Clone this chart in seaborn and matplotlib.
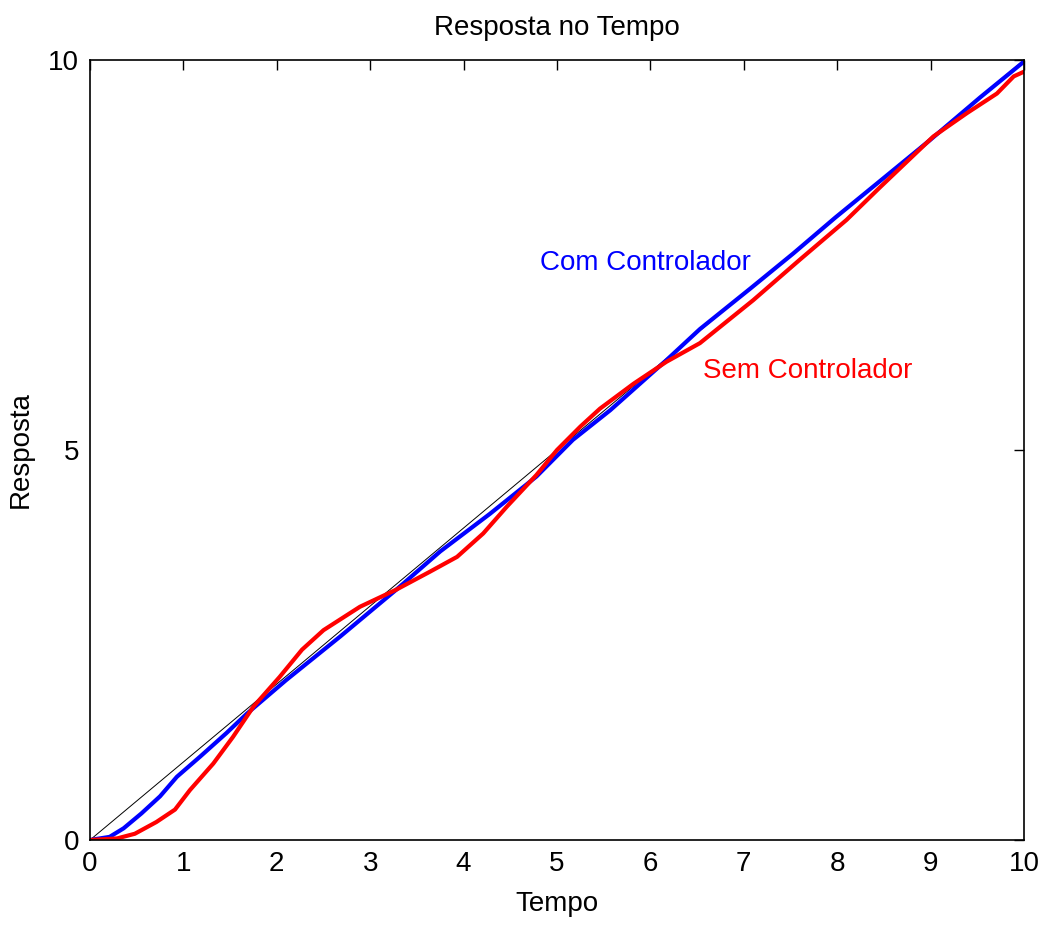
import matplotlib
matplotlib.use("Agg")
import matplotlib.pyplot as plt
import seaborn as sns

# Reference (input ramp)
ref_t = [0, 10]
ref_y = [0, 10]

# Com Controlador (blue)
com_t = [0, 0.21, 0.36, 0.55, 0.75, 0.93, 1.18, 1.46, 1.68, 2.10, 2.68, 3.28, 3.75, 4.28, 4.78, 5.17, 5.57, 6.17, 6.53, 7.07, 7.53, 7.98, 8.46, 8.99, 9.53, 10.0]
com_y = [0, 0.04, 0.15, 0.34, 0.56, 0.81, 1.07, 1.37, 1.62, 2.05, 2.61, 3.21, 3.70, 4.18, 4.66, 5.13, 5.51, 6.15, 6.55, 7.07, 7.52, 7.98, 8.45, 8.97, 9.52, 9.98]

# Sem Controlador (red)
sem_t = [0, 0.29, 0.48, 0.71, 0.91, 1.07, 1.32, 1.53, 1.75, 2.03, 2.27, 2.50, 2.89, 3.28, 3.64, 3.93, 4.21, 4.46, 4.78, 5.00, 5.25, 5.46, 5.82, 6.17, 6.53, 7.10, 7.35, 7.60, 8.10, 8.46, 9.03, 9.39, 9.71, 9.89, 10.0]
sem_y = [0, 0.02, 0.08, 0.23, 0.39, 0.64, 0.98, 1.32, 1.71, 2.09, 2.44, 2.69, 2.99, 3.21, 3.44, 3.63, 3.93, 4.27, 4.68, 5.00, 5.30, 5.53, 5.85, 6.13, 6.37, 6.92, 7.18, 7.44, 7.95, 8.37, 9.02, 9.32, 9.57, 9.79, 9.85]

x_ticks = [0, 1, 2, 3, 4, 5, 6, 7, 8, 9, 10]
y_ticks = [0, 5, 10]

title = "Resposta no Tempo"
xlabel = "Tempo"
ylabel = "Resposta"
label_com = "Com Controlador"
label_sem = "Sem Controlador"

sns.set_style("white")
plt.rcParams['font.family'] = ['Liberation Sans', 'DejaVu Sans']
plt.rcParams['text.color'] = 'black'
plt.rcParams['axes.labelcolor'] = 'black'

fig = plt.figure(figsize=(10.47, 9.26), dpi=100)
ax = fig.add_axes([90/1047, 1 - 840/926, (1024-90)/1047, (840-60)/926])

sns.lineplot(x=ref_t, y=ref_y, ax=ax, color='black', linewidth=0.7, sort=False)
sns.lineplot(x=com_t, y=com_y, ax=ax, color='#0000ff', linewidth=3.0, sort=False)
sns.lineplot(x=sem_t, y=sem_y, ax=ax, color='#ff0000', linewidth=3.0, sort=False)

ax.set_xlim(0, 10)
ax.set_ylim(0, 10)
ax.set_xticks(x_ticks)
ax.set_yticks(y_ticks)
ax.tick_params(direction='in', length=7, width=1, top=True, right=True,
               labelsize=20, colors='black', pad=8)
for s in ax.spines.values():
    s.set_visible(True)
    s.set_color('black')
    s.set_linewidth(1.2)

ax.set_title(title, fontsize=20, pad=18, color='black')
ax.set_xlabel(xlabel, fontsize=20, labelpad=10, color='black')
ax.set_ylabel(ylabel, fontsize=20, labelpad=10, color='black')

ax.text(4.82, 7.31, label_com, color='#0000ff', fontsize=20)
ax.text(6.56, 5.92, label_sem, color='#ff0000', fontsize=20)

fig.savefig("out.png", dpi=100, facecolor='white')
